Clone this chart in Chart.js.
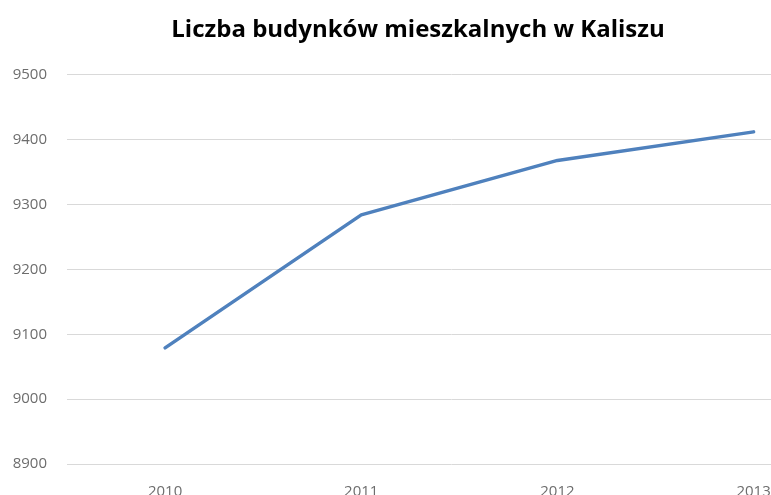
<!DOCTYPE html>
<html>
<head>
<meta charset="utf-8">
<title>Liczba budynków mieszkalnych w Kaliszu</title>
<script src="https://cdn.jsdelivr.net/npm/chart.js@4"></script>
<style>
    html, body { margin: 0; padding: 0; background: #fff; overflow: hidden; }
    #wrap { width: 771px; height: 495px; overflow: hidden; }
</style>
</head>
<body>
<div id="wrap">
    <canvas id="buildingsChart" width="836" height="500"></canvas>
</div>
<script>
// Data
const years = [2010, 2011, 2012, 2013];
const buildings = [9079, 9284, 9368, 9412];
const yTicks = [8900, 9000, 9100, 9200, 9300, 9400, 9500];

const tickColor = '#6d6d6d';
const gridColor = '#d9d9d9';

function setupChart() {
    const ctx = document.getElementById('buildingsChart').getContext('2d');
    new Chart(ctx, {
        type: 'line',
        data: {
            datasets: [{
                label: 'Liczba budynków',
                data: years.map((y, i) => ({ x: y, y: buildings[i] })),
                borderColor: '#4f81bd',
                borderWidth: 3.5,
                borderCapStyle: 'round',
                borderJoinStyle: 'round',
                pointRadius: 0,
                tension: 0,
                fill: false
            }]
        },
        options: {
            responsive: false,
            animation: false,
            devicePixelRatio: 1,
            layout: { padding: 0 },
            plugins: {
                legend: { display: false },
                tooltip: { enabled: false },
                title: {
                    display: true,
                    text: 'Liczba budynków mieszkalnych w Kaliszu',
                    color: '#000',
                    font: { family: 'Open Sans', size: 24, weight: 'bold', lineHeight: 1.2 },
                    padding: { top: 16, bottom: 30 }
                }
            },
            scales: {
                x: {
                    type: 'linear',
                    min: 2009.5,
                    max: 2013.42,
                    grid: { display: false, drawTicks: false },
                    border: { display: false },
                    afterFit: scale => { scale.height = 36; },
                    afterBuildTicks: scale => {
                        scale.ticks = years.map(v => ({ value: v }));
                    },
                    ticks: {
                        color: tickColor,
                        padding: 19,
                        maxRotation: 0,
                        autoSkip: false,
                        font: { family: 'Open Sans', size: 15 },
                        callback: v => String(v)
                    }
                },
                y: {
                    min: 8900,
                    max: 9500,
                    grid: { color: gridColor, lineWidth: 1, drawTicks: false },
                    border: { display: false },
                    afterFit: scale => { scale.width = 67; },
                    afterBuildTicks: scale => {
                        scale.ticks = yTicks.map(v => ({ value: v }));
                    },
                    ticks: {
                        color: tickColor,
                        padding: 20,
                        font: { family: 'Open Sans', size: 15 },
                        callback: v => String(v)
                    }
                }
            }
        }
    });
}

document.addEventListener('DOMContentLoaded', setupChart);
</script>
</body>
</html>
